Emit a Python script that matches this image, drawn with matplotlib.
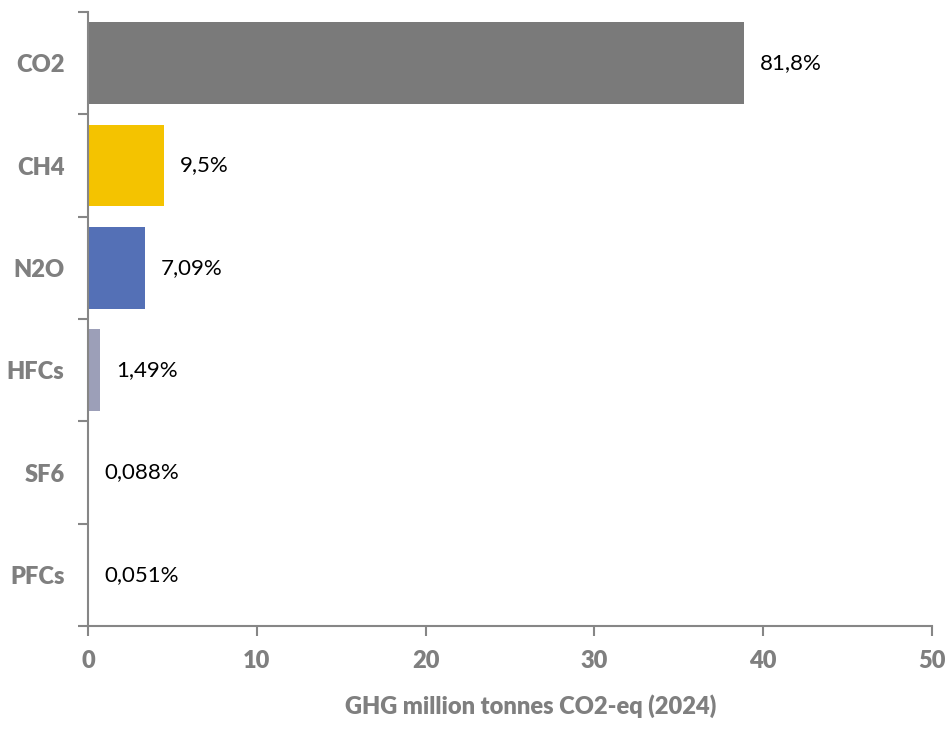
import matplotlib.pyplot as plt
import numpy as np

plt.rcParams['font.family'] = ['Lato', 'DejaVu Sans']

# GHG emissions by gas, million tonnes CO2-eq (2024)
gases = ["CO2", "CH4", "N2O", "HFCs", "SF6", "PFCs"]
emissions = [38.86, 4.51, 3.37, 0.71, 0.042, 0.024]
share_labels = ["81,8%", "9,5%", "7,09%", "1,49%", "0,088%", "0,051%"]
bar_colors = ["#7a7a7a", "#f4c300", "#5470b6", "#9c9fb8", "#c9c9c9", "#c9c9c9"]

axis_grey = "#868686"
text_grey = "#7f7f7f"

fig = plt.figure(figsize=(9.48, 7.29), dpi=100)
ax = fig.add_axes([88 / 948, 1 - 626 / 729, (932 - 88) / 948, (626 - 12) / 729])

ypos = np.arange(len(gases))
ax.barh(ypos, emissions, height=0.8, color=bar_colors, zorder=2)

for y, v, lab in zip(ypos, emissions, share_labels):
    ax.annotate(lab, xy=(v, y), xytext=(11.5, 0), textcoords="offset points",
                va="center", ha="left", fontsize=16, color="black")

ax.set_ylim(len(gases) - 0.5, -0.5)
ax.set_xlim(0, 50)
ax.set_xticks(np.arange(0, 51, 10))

# category labels sit between the boundary ticks
ax.set_yticks(np.arange(-0.5, len(gases)), minor=False)
ax.set_yticklabels([])
ax.set_yticks(ypos, minor=True)
ax.set_yticklabels(gases, minor=True)
ax.tick_params(axis="y", which="minor", length=0, pad=17)
ax.tick_params(axis="y", which="major", length=7, width=1.5, color=axis_grey)
ax.tick_params(axis="x", length=7, width=1.5, color=axis_grey, pad=10)

for lab in ax.get_yticklabels(minor=True) + ax.get_xticklabels():
    lab.set_fontsize(17)
    lab.set_fontweight("heavy")
    lab.set_color(text_grey)

for side in ["top", "right"]:
    ax.spines[side].set_visible(False)
for side in ["left", "bottom"]:
    ax.spines[side].set_color(axis_grey)
    ax.spines[side].set_linewidth(1.5)

ax.set_xlabel("GHG million tonnes CO2-eq (2024)", fontsize=17, fontweight="heavy",
              color=text_grey)
ax.xaxis.set_label_coords(0.525, -0.112)

fig.savefig("out.png", dpi=100)
